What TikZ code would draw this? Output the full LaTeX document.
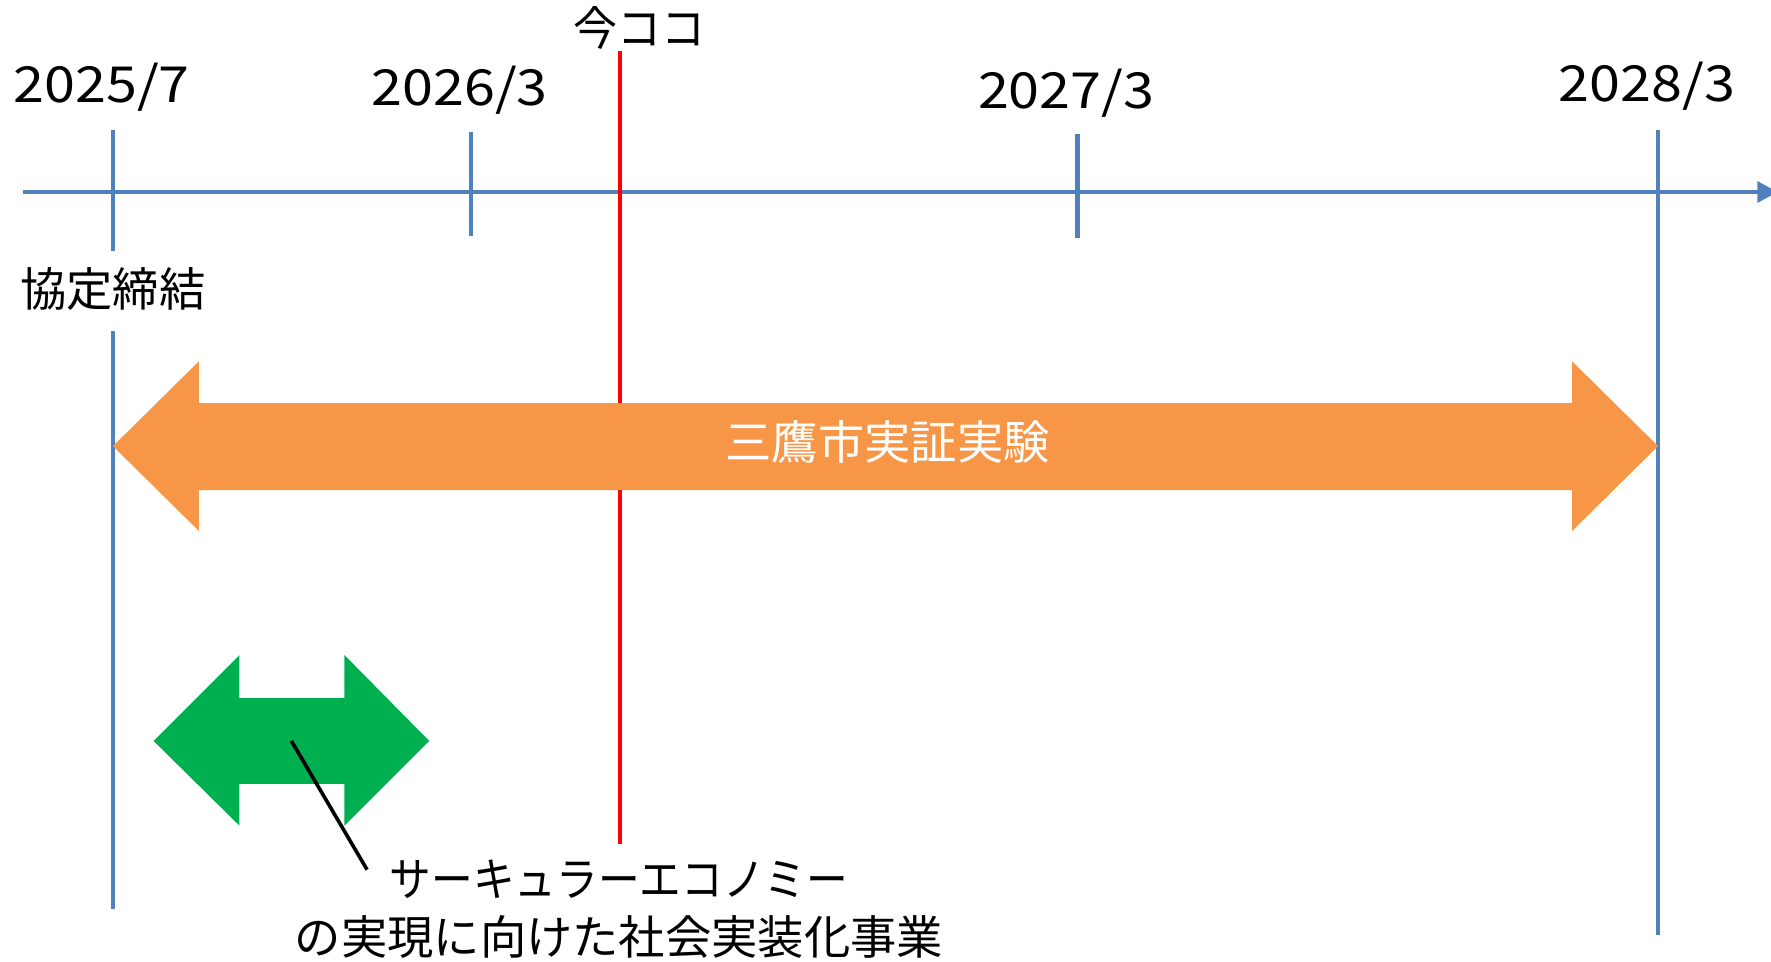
\documentclass[tikz,border=0pt]{standalone}
\usepackage{fontspec}
\usepackage{graphicx}
\setmainfont{Noto Sans CJK JP}
\usetikzlibrary{arrows.meta}
\definecolor{axisblue}{HTML}{4F81BD}
\definecolor{spanorange}{HTML}{F79646}
\definecolor{spangreen}{HTML}{00B050}
\definecolor{nowred}{HTML}{FF0000}
\begin{document}
\begin{tikzpicture}[x=0.5pt,y=-0.5pt,
  axisline/.style={draw=axisblue,line width=2.1pt},
  nowline/.style={draw=nowred,line width=2.1pt},
  lbl/.style={inner sep=0pt,font=\fontsize{20.5pt}{24pt}\selectfont,text height=18pt,text depth=2.5pt},
  datelbl/.style={inner sep=0pt,font=\fontsize{22pt}{26pt}\selectfont,text height=16.1pt,text depth=0pt},
  pointer/.style={draw=black,line width=1.6pt}
]
\useasboundingbox (0,0) rectangle (1568,851);

% axis
\coordinate (axL) at (20,170);
\coordinate (axR) at (1574,170);
\draw[axisline,-{Triangle[length=9pt,width=9pt]}] (axL) -- (axR);

% ticks
\coordinate (t1a) at (100,115); \coordinate (t1b) at (100,222);
\coordinate (t1c) at (100,293); \coordinate (t1d) at (100,805);
\coordinate (t2a) at (417,117); \coordinate (t2b) at (417,209);
\coordinate (t3a) at (954,119); \coordinate (t3b) at (954,211);
\coordinate (t4a) at (1468,115); \coordinate (t4b) at (1468,828);
\draw[axisline] (t1a) -- (t1b);
\draw[axisline] (t1c) -- (t1d);
\draw[axisline] (t2a) -- (t2b);
\draw[axisline] (t3a) -- (t3b);
\draw[axisline] (t4a) -- (t4b);

% now line
\coordinate (nowA) at (549,45);
\coordinate (nowB) at (549,747);
\draw[nowline] (nowA) -- (nowB);

% orange double arrow
\fill[spanorange] (100,395) -- (176,320) -- (176,357) -- (1392,357) -- (1392,320)
  -- (1468,395) -- (1392,470) -- (1392,434) -- (176,434) -- (176,470) -- cycle;
\node[lbl,text=white] (exp) at (786,391) {三鷹市実証実験};

% green double arrow
\fill[spangreen] (136,656) -- (212,580) -- (212,618) -- (305,618) -- (305,580)
  -- (380,656) -- (305,731) -- (305,694) -- (212,694) -- (212,731) -- cycle;

% pointer line
\coordinate (pA) at (258,656);
\coordinate (pB) at (325,770);
\draw[pointer] (pA) -- (pB);

% labels
\node[datelbl] (d1) at (90,75) {\scalebox{1.12}[1]{2025/7}};
\node[datelbl] (d2) at (407,77) {\scalebox{1.12}[1]{2026/3}};
\node[datelbl] (d3) at (944,80) {\scalebox{1.12}[1]{2027/3}};
\node[datelbl] (d4) at (1458,74) {\scalebox{1.12}[1]{2028/3}};
\node[lbl] (now) at (566,25) {\scalebox{0.95}[1]{今ココ}};
\node[lbl] (sign) at (100,256) {協定締結};
\node[lbl] (ce1) at (548,778) {\scalebox{0.9}[1]{サーキュラーエコノミー}};
\node[lbl] (ce2) at (548,830) {の実現に向けた社会実装化事業};
\end{tikzpicture}
\end{document}
